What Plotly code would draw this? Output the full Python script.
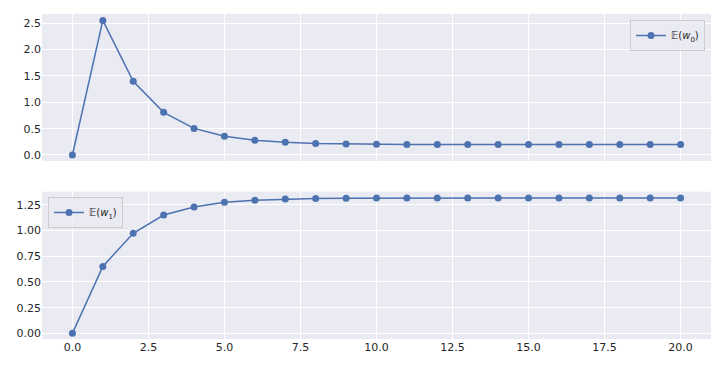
import plotly.graph_objects as go
from plotly.subplots import make_subplots

steps = list(range(21))
w0_mean = [0.0, 2.555, 1.40, 0.81, 0.505, 0.355, 0.278, 0.24, 0.22, 0.21, 0.203,
           0.2, 0.2, 0.2, 0.2, 0.2, 0.2, 0.2, 0.2, 0.2, 0.2]
w1_mean = [0.0, 0.652, 0.974, 1.152, 1.23, 1.276, 1.296, 1.307, 1.313, 1.316, 1.317,
           1.318, 1.318, 1.318, 1.318, 1.318, 1.318, 1.318, 1.318, 1.318, 1.318]
labels = ["𝔼(<i>w</i><sub>0</sub>)", "𝔼(<i>w</i><sub>1</sub>)"]

blue = "#4c72b0"
W, H = 723, 366
ml, mr, mt, mb = 42, 12, 14, 27
ph = H - mt - mb
top_dom = [(H - mb - 161) / ph, 1.0]
bot_dom = [0.0, (H - mb - 191.7) / ph]

fig = make_subplots(rows=2, cols=1, shared_xaxes=True)
fig.add_trace(go.Scatter(x=steps, y=w0_mean, mode="lines+markers", name=labels[0],
                         line=dict(color=blue, width=1.5), marker=dict(size=7, color=blue),
                         legend="legend", showlegend=True), row=1, col=1)
fig.add_trace(go.Scatter(x=steps, y=w1_mean, mode="lines+markers", name=labels[1],
                         line=dict(color=blue, width=1.5), marker=dict(size=7, color=blue),
                         legend="legend2", showlegend=True), row=2, col=1)

axcommon = dict(showgrid=True, gridcolor="white", gridwidth=1, zeroline=False,
                showline=False, ticks="", tickfont=dict(family="DejaVu Sans", size=11, color="#262626"))
fig.update_xaxes(range=[-1, 21], tickvals=[0, 2.5, 5, 7.5, 10, 12.5, 15, 17.5, 20],
                 tickformat=".1f", **axcommon)
fig.update_xaxes(showticklabels=False, row=1, col=1)
fig.update_yaxes(domain=top_dom, range=[-0.114, 2.676], tickvals=[0, 0.5, 1, 1.5, 2, 2.5],
                 tickformat=".1f", row=1, col=1, **axcommon)
fig.update_yaxes(domain=bot_dom, range=[-0.055, 1.379], tickvals=[0, 0.25, 0.5, 0.75, 1, 1.25],
                 tickformat=".2f", row=2, col=1, **axcommon)
fig.update_xaxes(domain=[0, 1])

legstyle = dict(bgcolor="rgba(234,234,242,0.8)", bordercolor="#cccccc", borderwidth=1,
                itemwidth=30, font=dict(family="DejaVu Sans", size=10, color="#262626"))
fig.update_layout(
    width=W, height=H, margin=dict(l=ml, r=mr, t=mt, b=mb),
    paper_bgcolor="white", plot_bgcolor="#eaeaf2", showlegend=True,
    legend=dict(x=(705 - ml) / (W - ml - mr), y=(H - mb - 20) / ph, xanchor="right", yanchor="top", **legstyle),
    legend2=dict(x=(48 - ml) / (W - ml - mr), y=(H - mb - 197) / ph, xanchor="left", yanchor="top", **legstyle),
)
fig.write_html("out.html")
